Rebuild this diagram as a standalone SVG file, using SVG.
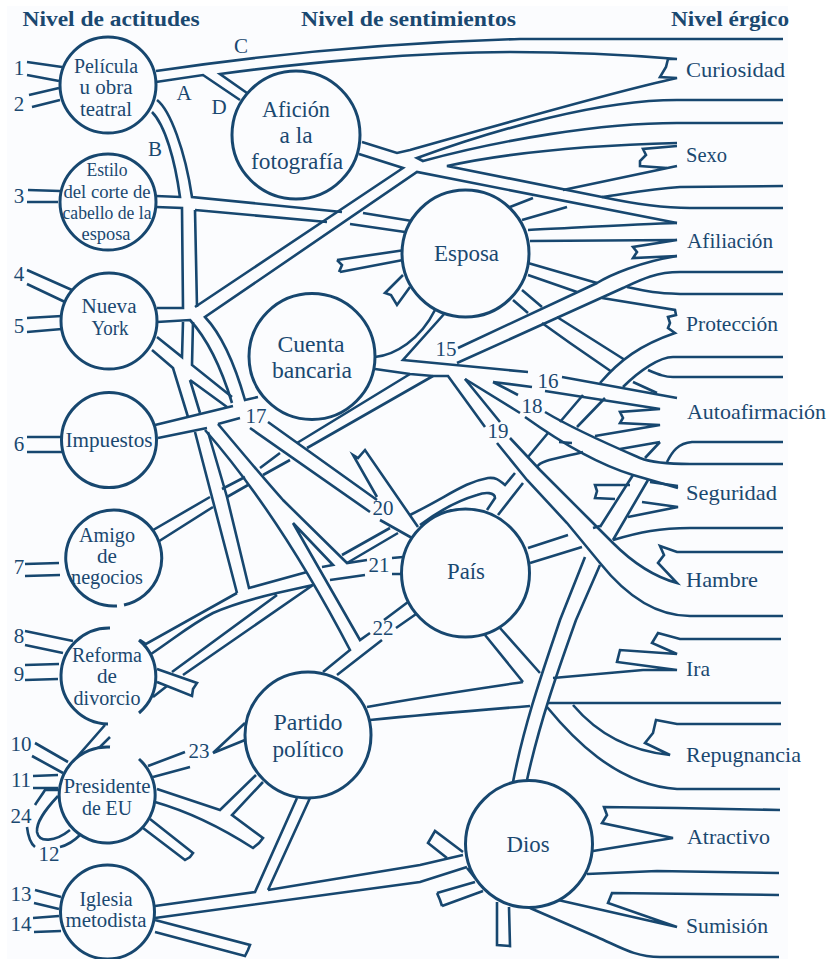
<svg xmlns="http://www.w3.org/2000/svg" width="831" height="959" viewBox="0 0 831 959">
<style>
text{font-family:"Liberation Serif","DejaVu Serif",serif;fill:#1a4870;}
.h{font-size:22px;font-weight:bold;}
.n{font-size:20px;text-anchor:middle;}
.s{font-size:19px;text-anchor:middle;}
.b{font-size:24px;text-anchor:middle;}
.e{font-size:22px;}
.m{font-size:21px;text-anchor:middle;}
#connectors path{fill:none;stroke:#17476f;stroke-width:2.6;stroke-linejoin:miter;stroke-linecap:butt;}
.c{fill:#fbfcfe;stroke:#17476f;stroke-width:3;}
</style>
<rect width="831" height="959" fill="#ffffff"/>
<rect x="7" y="6" width="781" height="953" fill="#fbfcfe"/>
<g id="connectors">
<path d="M27,62L62,67M27,75L59,81M29,95L59,88M32,107L60,100M28,190L60,191M27,202L58,202M27,270L72,290M27,284L65,302M27,318L62,316M27,332L62,329M27,437L62,437M27,452L62,452M25,564L59,563M25,576L60,575M25,631L73,641M25,645L63,653M25,665L59,664M25,680L58,679M35,743L68,762M32,756L63,773M33,776L58,775M33,788L58,788M35,890L61,897M34,903L59,909M33,918L59,916M34,932L61,931"/>
<path d="M58,790L45,790C42,795 38,800 35,805M27,827C28,836 30,843 35,847M60,847C68,845 75,840 80,835M58,796C45,810 36,822 37,832C39,843 55,842 70,830"/>
<path d="M105,725L70,765M110,737L100,747L90,752"/>
<path d="M156,71C250,57 380,43 520,39L783,39"/>
<path d="M247,93L220,74C300,63 420,52 510,52C570,52 630,55 677,59L668,59L666,67L660,77L677,78C600,95 500,125 410,150L397,153L362,142"/>
<path d="M156,82L203,75L240,100"/>
<path d="M359,154L403,168L195,307"/>
<path d="M258,397L245,400C235,365 222,335 205,317L417,172L677,223"/>
<path d="M783,100L677,100C600,100 500,128 417,158L423,161C500,140 600,123 677,123L783,123"/>
<path d="M677,143C600,145 520,150 447,166L602,197C630,203 660,208 690,208L783,208"/>
<path d="M783,186L680,187C650,189 630,193 602,197"/>
<path d="M677,146L643,149L646,155L640,161L640,166L667,168M677,166L563,190"/>
<path d="M528,230C570,228 640,224 677,223M530,241L677,240L633,247L637,252L633,258L677,256"/>
<path d="M510,207L533,198M522,220L567,207"/>
<path d="M152,112C165,125 175,160 180,197L156,196M157,100C170,110 185,150 192,197L342,212M363,213L412,221"/>
<path d="M156,207L182,208L183,308L157,308M195,210L327,222M350,224L405,232M195,210L197,307"/>
<path d="M337,260L405,250M340,272L403,260M337,260L342,265L339,272M403,275L385,293L391,295L397,305L410,287"/>
<path d="M157,322L190,320C213,345 225,380 232,403"/>
<path d="M157,337L182,357L183,322M193,322L192,365L232,397M152,350L173,368L188,417M190,380L200,413M190,380L227,407"/>
<path d="M155,425L233,406M158,438L207,428M218,424L240,418"/>
<path d="M195,432L237,593M208,432L227,497L249,588L307,572"/>
<path d="M205,430C240,470 290,535 350,650L323,672M218,424C240,450 265,480 283,500L347,563L367,560"/>
<path d="M268,422L377,500M250,428L370,512M380,520L412,538M377,497L353,455L358,458L365,450L418,527"/>
<path d="M293,523L360,640L370,633M293,523L333,565L322,567M382,640L337,675"/>
<path d="M408,602L384,620M419,612L396,628M392,558L403,557M392,574L402,574M330,580L365,575"/>
<path d="M148,533L210,497M222,489L245,477M260,468L280,453M297,443L410,374M153,545L213,507M227,497L248,485M263,475L290,460M307,448L433,376"/>
<path d="M140,640L146,644L237,593M151,654C175,638 190,625 213,613C235,603 260,597 277,593L313,585M172,672L277,595M153,697L167,686M183,675L313,585"/>
<path d="M157,669L197,683L193,689L192,696L157,682"/>
<path d="M342,555L390,528M347,563L398,533M410,515C450,495 465,482 488,478C497,477 500,481 505,485L515,473M420,525C440,510 460,500 477,495C485,492 495,492 495,498L487,510M498,515L523,483M528,457L548,433M560,422L583,395M537,467C540,460 560,458 583,452M577,427L605,398M559,442L572,443"/>
<path d="M600,383C620,360 640,345 675,333L668,328L670,323L668,317L676,315L675,310L602,298M528,263L597,283M528,275L577,292M522,290L542,307M557,317L625,360M513,300L528,313M542,323L570,343L612,372"/>
<path d="M623,387C640,370 660,357 673,357L783,357M648,370C660,375 665,377 673,377L783,377M633,382L657,393"/>
<path d="M677,256C640,262 610,275 597,283L458,348M457,363L623,288C640,280 655,272 680,272L783,272M627,287C650,292 655,293 680,294L783,294"/>
<path d="M375,357C395,355 420,340 435,310M445,313L403,360L528,372M562,377L677,398"/>
<path d="M375,369L410,374L433,376L448,376L485,427M497,443L527,480L567,523L600,563C620,588 650,616 690,616L783,616"/>
<path d="M465,379L500,422M510,438L540,470L587,517L613,543C635,565 655,577 677,583L658,563L664,555L660,546L677,552L783,552"/>
<path d="M465,379L520,413M525,417C560,442 600,465 633,475L678,488M493,382L518,395M545,412C575,430 610,445 640,458C650,462 665,464 690,464L783,464M493,382L532,387M545,391L660,409L620,412L623,418L620,423L660,425L595,436"/>
<path d="M660,442L620,449M660,442L645,458M667,462C672,452 678,443 692,442L783,442"/>
<path d="M650,482L678,486M630,485L595,485L597,491L595,498L615,499M642,502L678,507L628,517"/>
<path d="M633,475L600,527M585,557L560,620C545,665 525,720 513,782M648,480L613,540M600,565L576,620C560,665 540,720 527,780"/>
<path d="M613,540C640,532 660,528 690,528L783,528M593,528L600,526M528,548L568,535M530,563L582,547"/>
<path d="M367,707C420,697 490,687 523,682M553,678L643,670L677,670L617,662L620,650L677,654L652,643L658,633L680,639L781,639M370,720C420,715 480,710 530,706M547,703L781,703M485,635L523,682M500,628L540,673"/>
<path d="M573,705C590,725 620,750 670,755L645,743L653,733L656,720L677,724L781,724M547,707C570,735 615,785 677,789L780,789"/>
<path d="M593,851L673,838L602,823L607,815L604,807L677,808L780,810M587,874L657,871L779,873M558,900L677,927L608,903L612,893L779,895M530,908L597,937C620,947 635,957 660,957L779,957"/>
<path d="M497,902L497,945L510,946L509,907M463,852L435,831L428,843L447,858M475,878L467,868M437,893L475,882M442,906L483,891M437,893L440,900L442,906"/>
<path d="M155,906L255,892L297,798M268,890L310,798M268,890L420,865L463,855M155,918L420,882L467,867M155,920L250,945L248,950L245,956L155,932"/>
<path d="M148,766L185,752M153,777L190,767M213,753L245,723M213,753L245,740M157,789L220,810L256,775M155,802C190,812 225,830 253,848L259,843L263,838L232,815L263,782M150,819L193,853L190,857L185,860L143,828"/>
</g>
<g id="n-pelicula"><circle class="c" cx="108" cy="85" r="48"/><text class="n" x="106" y="73" textLength="64" lengthAdjust="spacingAndGlyphs">Película</text><text class="n" x="106" y="94" textLength="53" lengthAdjust="spacingAndGlyphs">u obra</text><text class="n" x="106" y="116" textLength="52" lengthAdjust="spacingAndGlyphs">teatral</text></g>
<g id="n-estilo"><circle class="c" cx="108" cy="202" r="48"/><text class="s" x="107" y="176" textLength="41" lengthAdjust="spacingAndGlyphs">Estilo</text><text class="s" x="107" y="198" textLength="87" lengthAdjust="spacingAndGlyphs">del corte de</text><text class="s" x="107" y="219" textLength="89" lengthAdjust="spacingAndGlyphs">cabello de la</text><text class="s" x="106" y="240" textLength="49" lengthAdjust="spacingAndGlyphs">esposa</text></g>
<g id="n-nuevayork"><circle class="c" cx="109" cy="321" r="48"/><text class="n" x="109" y="313" textLength="55" lengthAdjust="spacingAndGlyphs">Nueva</text><text class="n" x="110" y="335" textLength="37" lengthAdjust="spacingAndGlyphs">York</text></g>
<g id="n-impuestos"><circle class="c" cx="109" cy="440" r="47.5"/><text class="n" x="109" y="447" textLength="87" lengthAdjust="spacingAndGlyphs">Impuestos</text></g>
<g id="n-amigo"><path class="c" d="M124,605A48,48 0 1 0 117,606"/><text class="n" x="107" y="542" textLength="56" lengthAdjust="spacingAndGlyphs">Amigo</text><text class="n" x="107" y="563" textLength="20" lengthAdjust="spacingAndGlyphs">de</text><text class="n" x="107" y="584" textLength="72" lengthAdjust="spacingAndGlyphs">negocios</text></g>
<g id="n-reforma"><path class="c" d="M110,628A48,48 0 0 0 108,724"/><path class="c" d="M139,640A48,48 0 0 1 139,713"/><text class="n" x="107" y="662" textLength="70" lengthAdjust="spacingAndGlyphs">Reforma</text><text class="n" x="107" y="683" textLength="20" lengthAdjust="spacingAndGlyphs">de</text><text class="n" x="107" y="705" textLength="67" lengthAdjust="spacingAndGlyphs">divorcio</text></g>
<g id="n-presidente"><path class="c" d="M110,747A48,48 0 1 0 139,759"/><text class="n" x="107" y="793" textLength="87" lengthAdjust="spacingAndGlyphs">Presidente</text><text class="n" x="107" y="815" textLength="50" lengthAdjust="spacingAndGlyphs">de EU</text></g>
<g id="n-iglesia"><circle class="c" cx="107.5" cy="912" r="47"/><text class="n" x="106" y="906" textLength="53" lengthAdjust="spacingAndGlyphs">Iglesia</text><text class="n" x="106" y="927" textLength="81" lengthAdjust="spacingAndGlyphs">metodista</text></g>
<g id="n-aficion"><circle class="c" cx="296" cy="135" r="64"/><text class="b" x="296" y="117" textLength="68" lengthAdjust="spacingAndGlyphs">Afición</text><text class="b" x="296" y="143" textLength="33" lengthAdjust="spacingAndGlyphs">a la</text><text class="b" x="297" y="169" textLength="92" lengthAdjust="spacingAndGlyphs">fotografía</text></g>
<g id="n-esposa"><circle class="c" cx="465.5" cy="253.5" r="63.5"/><text class="b" x="466.5" y="261" textLength="65" lengthAdjust="spacingAndGlyphs">Esposa</text></g>
<g id="n-cuenta"><circle class="c" cx="312" cy="356.5" r="63"/><text class="b" x="311" y="352" textLength="67" lengthAdjust="spacingAndGlyphs">Cuenta</text><text class="b" x="312" y="378" textLength="80" lengthAdjust="spacingAndGlyphs">bancaria</text></g>
<g id="n-pais"><circle class="c" cx="465.5" cy="573" r="64"/><text class="b" x="466" y="579" textLength="38" lengthAdjust="spacingAndGlyphs">País</text></g>
<g id="n-partido"><circle class="c" cx="308" cy="735" r="63"/><text class="b" x="308" y="730" textLength="69" lengthAdjust="spacingAndGlyphs">Partido</text><text class="b" x="308" y="757" textLength="71" lengthAdjust="spacingAndGlyphs">político</text></g>
<g id="n-dios"><circle class="c" cx="529" cy="844" r="63.5"/><text class="b" x="528" y="852" textLength="43" lengthAdjust="spacingAndGlyphs">Dios</text></g>
<g id="headers">
<text class="h" x="22.5" y="26" textLength="177" lengthAdjust="spacingAndGlyphs">Nivel de actitudes</text>
<text class="h" x="301" y="26" textLength="215" lengthAdjust="spacingAndGlyphs">Nivel de sentimientos</text>
<text class="h" x="671" y="26" textLength="118" lengthAdjust="spacingAndGlyphs">Nivel érgico</text>
</g>
<g id="ergic">
<text class="e" x="686" y="77" textLength="99" lengthAdjust="spacingAndGlyphs">Curiosidad</text>
<text class="e" x="686" y="162" textLength="41" lengthAdjust="spacingAndGlyphs">Sexo</text>
<text class="e" x="687" y="248" textLength="86" lengthAdjust="spacingAndGlyphs">Afiliación</text>
<text class="e" x="686" y="331" textLength="92" lengthAdjust="spacingAndGlyphs">Protección</text>
<text class="e" x="687" y="419" textLength="139" lengthAdjust="spacingAndGlyphs">Autoafirmación</text>
<text class="e" x="686" y="500" textLength="91" lengthAdjust="spacingAndGlyphs">Seguridad</text>
<text class="e" x="686" y="587" textLength="72" lengthAdjust="spacingAndGlyphs">Hambre</text>
<text class="e" x="686" y="676" textLength="24" lengthAdjust="spacingAndGlyphs">Ira</text>
<text class="e" x="686" y="762" textLength="115" lengthAdjust="spacingAndGlyphs">Repugnancia</text>
<text class="e" x="687" y="844" textLength="83" lengthAdjust="spacingAndGlyphs">Atractivo</text>
<text class="e" x="686" y="933" textLength="82" lengthAdjust="spacingAndGlyphs">Sumisión</text>
</g>
<g id="marks">
<text class="m" x="19" y="75">1</text><text class="m" x="19" y="111">2</text><text class="m" x="19" y="203">3</text><text class="m" x="19" y="281">4</text><text class="m" x="19" y="333">5</text><text class="m" x="19" y="451">6</text><text class="m" x="19" y="574">7</text><text class="m" x="19" y="643">8</text><text class="m" x="19" y="681">9</text>
<text class="m" x="21" y="751">10</text><text class="m" x="21" y="787">11</text><text class="m" x="21" y="823">24</text><text class="m" x="49" y="861">12</text><text class="m" x="21" y="901">13</text><text class="m" x="21" y="931">14</text>
<text class="m" x="199" y="758">23</text><text class="m" x="383" y="635">22</text><text class="m" x="379" y="572">21</text><text class="m" x="383" y="515">20</text><text class="m" x="256" y="423">17</text><text class="m" x="446" y="356">15</text><text class="m" x="548" y="388">16</text><text class="m" x="532" y="413">18</text><text class="m" x="498" y="438">19</text>
<text class="m" x="184" y="100">A</text><text class="m" x="155" y="156">B</text><text class="m" x="241" y="53">C</text><text class="m" x="219" y="114">D</text>
</g>
</svg>
